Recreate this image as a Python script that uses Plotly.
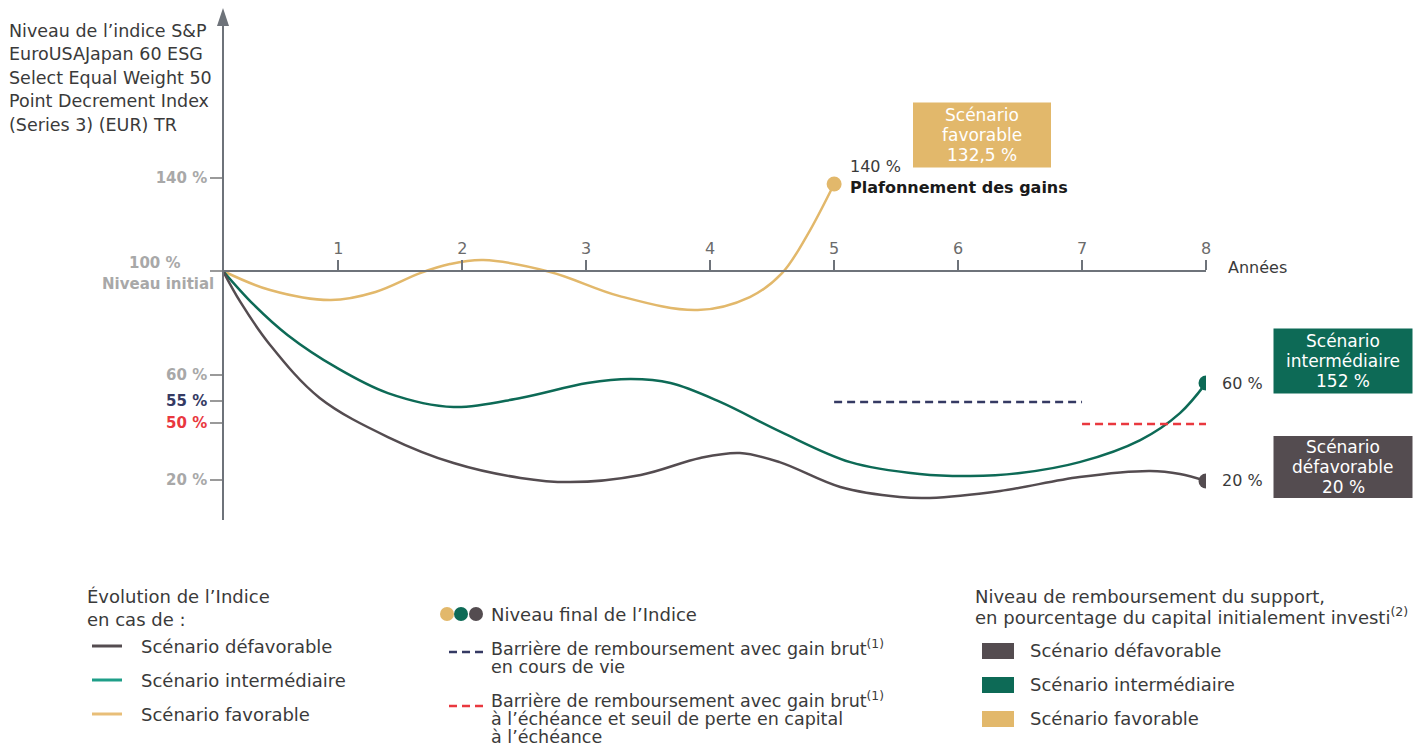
import plotly.graph_objects as go

# ---------------- data (years, index level in chart display units) ----------------
fav_x = [0.07, 0.45, 0.94, 1.30, 1.66, 1.90, 2.17, 2.71, 3.27, 3.90, 4.32, 4.58, 4.78, 5.0]
fav_y = [100, 91.8, 87.5, 91.0, 99.1, 103.0, 104.7, 99.6, 89.2, 83.2, 88.8, 99.1, 115.1, 137.4]

int_x = [0.07, 0.32, 0.59, 0.99, 1.40, 1.93, 2.47, 3.01, 3.36, 3.68, 4.08, 4.57, 5.13, 5.69, 6.10, 6.5, 6.98, 7.47, 7.79, 8.0]
int_y = [100, 85.4, 72.5, 58.3, 47.5, 41.5, 45.4, 51.8, 53.5, 51.8, 43.7, 30.8, 17.8, 12.7, 11.8, 13.1, 17.8, 27.3, 38.9, 51.8]

def_x = [0.07, 0.21, 0.45, 0.85, 1.40, 1.93, 2.47, 2.87, 3.44, 3.92, 4.24, 4.56, 5.05, 5.53, 5.77, 6.34, 6.98, 7.55, 7.79, 8.0]
def_y = [100, 86.7, 68.2, 45.4, 28.6, 17.4, 11.0, 9.2, 12.3, 19.6, 21.7, 17.8, 7.1, 2.8, 2.4, 5.4, 11.4, 14.0, 12.7, 9.7]

barrier_life_x = [5, 7]
barrier_life_y = [43.7, 43.7]
barrier_end_x = [7, 8]
barrier_end_y = [34.2, 34.2]

year_ticks = [1, 2, 3, 4, 5, 6, 7, 8]
y_tick_pos = [140, 100, 55.3, 44.1, 34.6, 10.1]
y_tick_labels = ["140 %", "", "60 %", "55 %", "50 %", "20 %"]
initial_label = ["100 %", "Niveau initial"]

final_labels = ["140 %", "60 %", "20 %"]
box_texts = [["Scénario", "favorable", "132,5 %"], ["Scénario", "intermédiaire", "152 %"],
             ["Scénario", "défavorable", "20 %"]]

# ---------------- styles ----------------
OFF = 8                      # page body margin
W, H = 1428 - OFF, 746 - OFF
GOLD = "#E2B86B"
GREEN = "#0D6A56"
DARK = "#544C50"
NAVY = "#353A63"
RED = "#E9383F"
AXIS = "#6E737A"
TICKGRAY = "#A8A8A8"
TXT = "#3A3A3A"
FONT = "DejaVu Sans"

def px(x):
    return (x - OFF) / W

def py(y):
    return 1 - (y - OFF) / H

fig = go.Figure()

fig.add_trace(go.Scatter(x=fav_x, y=fav_y, mode="lines", line=dict(color=GOLD, width=2.5, shape="spline", smoothing=1.0)))
fig.add_trace(go.Scatter(x=int_x, y=int_y, mode="lines", line=dict(color=GREEN, width=2.5, shape="spline", smoothing=1.0)))
fig.add_trace(go.Scatter(x=def_x, y=def_y, mode="lines", line=dict(color=DARK, width=2.5, shape="spline", smoothing=1.0)))
fig.add_trace(go.Scatter(x=barrier_life_x, y=barrier_life_y, mode="lines", line=dict(color=NAVY, width=2.5, dash="8px,5px")))
fig.add_trace(go.Scatter(x=barrier_end_x, y=barrier_end_y, mode="lines", line=dict(color=RED, width=2.5, dash="8px,5px")))
end_x = [fav_x[-1], int_x[-1], def_x[-1]]
end_y = [fav_y[-1], int_y[-1], def_y[-1]]
fig.add_trace(go.Scatter(x=end_x, y=end_y, mode="markers", marker=dict(size=15, color=[GOLD, GREEN, DARK])))

PXU = 2.325  # pixels per display unit
y_lo = 100 - (520 - 271) / PXU
y_hi = 100 + (271 - 22) / PXU

fig.update_layout(
    width=W, height=H, template="none", showlegend=False,
    margin=dict(l=0, r=0, t=0, b=0),
    paper_bgcolor="white", plot_bgcolor="rgba(0,0,0,0)",
    font=dict(family=FONT, color=TXT),
    xaxis=dict(domain=[px(223), px(1206)], range=[0.07, 8], anchor="free", position=py(271), side="top",
               showline=True, linecolor=AXIS, linewidth=1.5, showgrid=False, zeroline=False,
               tickvals=year_ticks, ticks="outside", ticklen=10, tickwidth=1.5, tickcolor=AXIS,
               tickfont=dict(family=FONT, size=16, color="#6B6B6B"), automargin=False),
    yaxis=dict(domain=[py(520), py(22)], range=[y_lo, y_hi], anchor="free", position=px(223), side="left",
               showline=True, linecolor=AXIS, linewidth=1.5, showgrid=False, zeroline=False,
               tickvals=y_tick_pos,
               ticktext=[("<b>" + t + "</b>" if i not in (3, 4) else
                          "<b><span style='color:%s'>%s</span></b>" % (NAVY if i == 3 else RED, t)) if t else ""
                         for i, t in enumerate(y_tick_labels)],
               ticks="outside", ticklen=12, tickwidth=1.5, tickcolor="#9A9A9A",
               tickfont=dict(family=FONT, size=15, color=TICKGRAY), automargin=False),
)

shapes = []
# arrow head on y axis
shapes.append(dict(type="path", xref="paper", yref="paper",
                   path="M %f %f L %f %f L %f %f Z" % (px(217), py(26), px(223), py(8), px(229), py(26)),
                   fillcolor=AXIS, line=dict(width=0)))

ann = []
def text(x, y, s, size=18, color=TXT, xanchor="left", bold=False):
    ann.append(dict(x=px(x), y=py(y), xref="paper", yref="paper", text=("<b>%s</b>" % s) if bold else s,
                    showarrow=False, xanchor=xanchor, yanchor="middle",
                    font=dict(family=FONT, size=size, color=color)))

# initial level label (two lines, centred)
text(155, 263, initial_label[0], size=15, color=TICKGRAY, xanchor="center", bold=True)
text(158, 284, initial_label[1], size=15, color=TICKGRAY, xanchor="center", bold=True)

# final values next to the dots
for xx, yy, lab, ys in zip(end_x, end_y, final_labels, [18, 0, 0]):
    ann.append(dict(x=xx, y=yy, xref="x", yref="y", text=lab, showarrow=False, xanchor="left",
                    yanchor="middle", xshift=14, yshift=ys, font=dict(family=FONT, size=16, color=TXT)))

# title
for i, line in enumerate(["Niveau de l’indice S&amp;P", "EuroUSAJapan 60 ESG", "Select Equal Weight 50",
                          "Point Decrement Index", "(Series 3) (EUR) TR"]):
    text(7, 31 + i * 23.5, line, size=17.5)

text(848, 187, "Plafonnement des gains", size=16, color="#1A1A1A", bold=True)
text(1226, 268, "Années", size=16)

# result boxes
for (cx, cy, w, h, col, lines) in [(982, 135, 138, 65, GOLD, box_texts[0]),
                                    (1343, 361, 139, 65, GREEN, box_texts[1]),
                                    (1343, 467, 139, 62, DARK, box_texts[2])]:
    shapes.append(dict(type="rect", xref="paper", yref="paper", x0=px(cx - w / 2), x1=px(cx + w / 2),
                       y0=py(cy + h / 2), y1=py(cy - h / 2), fillcolor=col, line=dict(width=0)))
    for k, s in enumerate(lines):
        text(cx, cy - 20 + 20 * k, s, size=17, color="white", xanchor="center")

# ---- legend: left block
text(85, 596, "Évolution de l’Indice")
text(85, 619, "en cas de :")
for yy, col, lab in [(646, DARK, "Scénario défavorable"), (680, "#1E9E88", "Scénario intermédiaire"),
                     (714, "#E8BE78", "Scénario favorable")]:
    shapes.append(dict(type="line", xref="paper", yref="paper", x0=px(92), x1=px(122), y0=py(yy), y1=py(yy),
                       line=dict(color=col, width=3)))
    text(139, yy, lab)

# ---- legend: middle block
for xx, col in [(447, GOLD), (461, GREEN), (476, DARK)]:
    shapes.append(dict(type="circle", xref="paper", yref="paper", x0=px(xx - 7), x1=px(xx + 7),
                       y0=py(614 + 7), y1=py(614 - 7), fillcolor=col, line=dict(width=0)))
text(489, 614, "Niveau final de l’Indice")
shapes.append(dict(type="line", xref="paper", yref="paper", x0=px(449), x1=px(484), y0=py(652), y1=py(652),
                   line=dict(color=NAVY, width=2.5, dash="8px,5px")))
text(489, 648, "Barrière de remboursement avec gain brut<sup>(1)</sup>", size=17.5)
text(489, 667, "en cours de vie", size=17.5)
shapes.append(dict(type="line", xref="paper", yref="paper", x0=px(449), x1=px(484), y0=py(706), y1=py(706),
                   line=dict(color=RED, width=2.5, dash="8px,5px")))
text(489, 700, "Barrière de remboursement avec gain brut<sup>(1)</sup>", size=17.5)
text(489, 719, "à l’échéance et seuil de perte en capital", size=17.5)
text(489, 737, "à l’échéance", size=17.5)

# ---- legend: right block
text(973, 596, "Niveau de remboursement du support,")
text(973, 616, "en pourcentage du capital initialement investi<sup>(2)</sup>")
for yy, col, lab in [(651, DARK, "Scénario défavorable"), (685, GREEN, "Scénario intermédiaire"),
                     (719, GOLD, "Scénario favorable")]:
    shapes.append(dict(type="rect", xref="paper", yref="paper", x0=px(982), x1=px(1014), y0=py(yy + 8),
                       y1=py(yy - 8), fillcolor=col, line=dict(width=0)))
    text(1028, yy - 1, lab)

fig.update_layout(shapes=shapes, annotations=ann)
fig.write_html("out.html")
